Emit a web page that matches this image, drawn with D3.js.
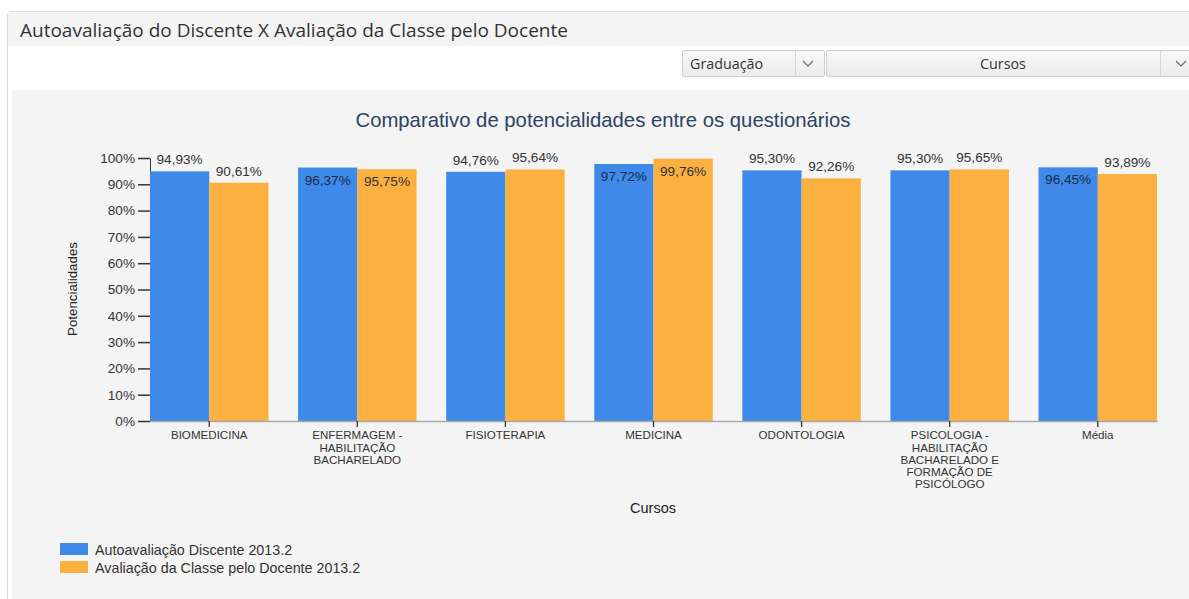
<!DOCTYPE html>
<html>
<head>
<meta charset="utf-8">
<script src="https://cdn.jsdelivr.net/npm/d3@7"></script>
<style>
  html, body { margin: 0; padding: 0; background: #ffffff; }
  body { width: 1189px; height: 599px; overflow: hidden; position: relative; font-family: "Liberation Sans", Arial, sans-serif; }
  #panel { position: absolute; left: 7px; top: 11px; width: 1200px; height: 600px; border: 1px solid #dcdcdc; border-radius: 4px; background: #ffffff; }
  #titlebar { position: absolute; left: 0; top: 0; width: 100%; height: 34px; background: #f4f4f4; }
  #titlebar span { position: absolute; left: 12px; top: 5px; font-family: "Open Sans", "Noto Sans", sans-serif; font-size: 19px; color: #333; }
  .dd { position: absolute; top: 38px; height: 27px; border: 1px solid #cfcfcf; border-radius: 2px; background: linear-gradient(#f7f7f7, #ececec); font-family: "Open Sans", "Noto Sans", sans-serif; font-size: 14.3px; color: #333; box-sizing: border-box; }
  .dd .lbl { position: absolute; top: 3px; }
  .dd .arrow { position: absolute; right: 0; top: 0; width: 28px; height: 25px; border-left: 1px solid #d6d6d6; }
  svg { position: absolute; left: 0; top: 0; }
</style>
</head>
<body>
<div id="panel">
  <div id="titlebar"><span>Autoavaliação do Discente X Avaliação da Classe pelo Docente</span></div>
  <div class="dd" style="left:674px; width:143px;"><span class="lbl" style="left:7px;">Graduação</span><div class="arrow"></div></div>
  <div class="dd" style="left:818px; width:380px;"><span class="lbl" style="left:0; width:352px; text-align:center;">Cursos</span><div class="arrow" style="right:16px;"></div></div>
</div>
<svg id="chart" width="1189" height="599"></svg>
<script>
const categories = ["BIOMEDICINA", "ENFERMAGEM - HABILITAÇÃO BACHARELADO", "FISIOTERAPIA", "MEDICINA", "ODONTOLOGIA", "PSICOLOGIA - HABILITAÇÃO BACHARELADO E FORMAÇÃO DE PSICÓLOGO", "Média"];
const seriesNames = ["Autoavaliação Discente 2013.2", "Avaliação da Classe pelo Docente 2013.2"];
const autoavaliacao = [94.93, 96.37, 94.76, 97.72, 95.30, 95.30, 96.45];
const avaliacaoDocente = [90.61, 95.75, 95.64, 99.76, 92.26, 95.65, 93.89];
const yTicks = [0, 10, 20, 30, 40, 50, 60, 70, 80, 90, 100];
const colors = ["#3f8ae9", "#fbb040"];

const svg = d3.select("#chart");

// dropdown chevrons
svg.selectAll("path.chev").data([808, 1181]).join("path")
  .attr("d", d => `M${d-5},${61} l5,5 l5,-5`)
  .attr("fill", "none").attr("stroke", "#666").attr("stroke-width", 1.1);

// chart background
svg.append("rect").attr("x", 12).attr("y", 90).attr("width", 1177).attr("height", 509).attr("fill", "#f4f4f4");

const x0 = d3.scaleBand().domain(categories).range([150, 1157]).paddingInner(0.2).paddingOuter(0);
const x1 = d3.scaleBand().domain([0, 1]).range([0, x0.bandwidth()]).padding(0);
const y = d3.scaleLinear().domain([0, 100]).range([421, 158]);

const fmt = v => d3.format(".2f")(v).replace(".", ",") + "%";
const inside = v => v > 95.7;

// title
svg.append("text").attr("x", 603).attr("y", 127).attr("text-anchor", "middle")
  .attr("font-size", 20.3).attr("fill", "#2d4263").text("Comparativo de potencialidades entre os questionários");

// y axis
const yAxis = d3.axisLeft(y).tickValues(yTicks).tickFormat(d => d + "%").tickSize(12).tickSizeOuter(0).tickPadding(3);
const gy = svg.append("g").attr("transform", "translate(150,0)").call(yAxis);
gy.selectAll("text").attr("font-size", 13.6).attr("fill", "#333").attr("font-family", "Liberation Sans, Arial, sans-serif");
gy.selectAll("line").attr("stroke", "#333").attr("stroke-width", 1.5);
gy.select(".domain").attr("stroke", "#333").attr("stroke-width", 1);

// bars
const data = categories.map((c, i) => ({ cat: c, vals: [autoavaliacao[i], avaliacaoDocente[i]] }));
const groups = svg.append("g").selectAll("g").data(data).join("g")
  .attr("transform", d => `translate(${x0(d.cat)},0)`);
groups.selectAll("rect").data(d => d.vals.map((v, k) => ({ v, k }))).join("rect")
  .attr("x", d => x1(d.k)).attr("width", x1.bandwidth())
  .attr("y", d => y(d.v)).attr("height", d => y(0) - y(d.v))
  .attr("fill", d => colors[d.k]);

// value labels
groups.selectAll("text").data(d => d.vals.map((v, k) => ({ v, k }))).join("text")
  .attr("x", d => x1(d.k) + x1.bandwidth() / 2)
  .attr("y", d => inside(d.v) ? y(d.v) + 17 : y(d.v) - 7)
  .attr("text-anchor", "middle").attr("font-size", 13.6)
  .attr("fill", d => inside(d.v) && d.k === 0 ? "#1b2b4b" : "#333")
  .text(d => fmt(d.v));

// x axis
const xAxis = d3.axisBottom(x0).tickSize(6).tickSizeOuter(0).tickPadding(4);
const gx = svg.append("g").attr("transform", "translate(0,421)").call(xAxis);
gx.select(".domain").attr("stroke", "#a8a8a8").attr("stroke-width", 1.5);
gx.selectAll(".tick line").attr("stroke", "#333").attr("stroke-width", 1.3);
gx.selectAll(".tick text").attr("font-size", 11.6).attr("fill", "#333").attr("font-family", "Liberation Sans, Arial, sans-serif")
  .each(function(d) {
    const t = d3.select(this);
    const words = d.split(" ");
    t.text(null);
    const maxW = x0.bandwidth() - 6;
    let line = [];
    let lines = [];
    const tmp = t.append("tspan");
    for (const w of words) {
      line.push(w);
      tmp.text(line.join(" "));
      if (tmp.node().getComputedTextLength() > maxW && line.length > 1) {
        line.pop();
        lines.push(line.join(" "));
        line = [w];
      }
    }
    lines.push(line.join(" "));
    tmp.remove();
    lines.forEach((l, i) => {
      t.append("tspan").attr("x", 0).attr("dy", i === 0 ? "0.71em" : "12.3px").text(l);
    });
  });

// axis titles
svg.append("text").attr("transform", "translate(77,289) rotate(-90)").attr("text-anchor", "middle")
  .attr("font-size", 13.3).attr("fill", "#222").text("Potencialidades");
svg.append("text").attr("x", 653).attr("y", 513).attr("text-anchor", "middle")
  .attr("font-size", 14.5).attr("fill", "#222").text("Cursos");

// legend
const leg = svg.append("g").selectAll("g").data(seriesNames).join("g")
  .attr("transform", (d, i) => `translate(60,${543 + i * 18})`);
leg.append("rect").attr("width", 28).attr("height", 12).attr("fill", (d, i) => colors[i]);
leg.append("text").attr("x", 35).attr("y", 11.5).attr("font-size", 14.3).attr("fill", "#333").text(d => d);
</script>
</body>
</html>
